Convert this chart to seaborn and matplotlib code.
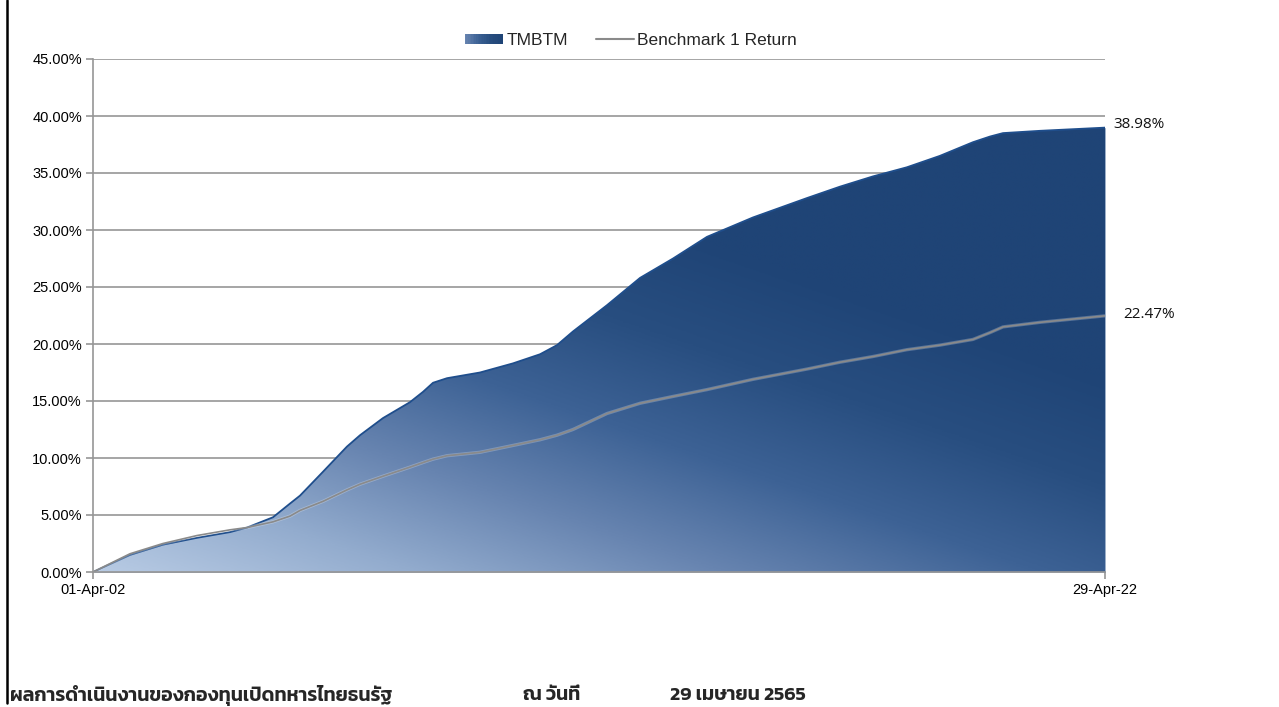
import matplotlib
matplotlib.use("Agg")
import numpy as np
import pandas as pd
import seaborn as sns
import matplotlib.pyplot as plt
import matplotlib.dates as mdates
from matplotlib.colors import LinearSegmentedColormap
from matplotlib.patches import Rectangle
from matplotlib.lines import Line2D
from matplotlib.legend_handler import HandlerBase

# Cumulative returns (%) of the fund and its benchmark
dates = [
    "2002-04-01", "2002-12-25", "2003-08-21", "2004-04-24", "2004-12-19",
    "2005-04-21", "2005-10-26", "2006-02-26", "2006-05-10", "2006-10-24",
    "2007-04-15", "2007-07-19", "2008-01-01", "2008-07-15", "2008-10-17",
    "2008-12-29", "2009-04-09", "2009-12-04", "2010-07-31", "2011-02-12",
    "2011-06-15", "2011-10-09", "2012-06-11", "2013-02-06", "2013-10-03",
    "2014-06-06", "2015-05-05", "2016-05-30", "2017-01-24", "2017-09-20",
    "2018-05-24", "2019-01-18", "2019-09-15", "2020-01-17", "2020-04-20",
    "2021-01-13", "2022-04-29",
]
tmbtm = [
    0.0, 1.5, 2.4, 3.0, 3.5,
    3.9, 4.8, 6.0, 6.7, 8.8,
    11.0, 12.0, 13.5, 14.9, 15.8,
    16.6, 17.0, 17.5, 18.3, 19.1,
    19.9, 21.1, 23.4, 25.8, 27.5,
    29.4, 31.1, 32.8, 33.8, 34.7,
    35.5, 36.5, 37.7, 38.2, 38.5,
    38.7, 38.98,
]
benchmark = [
    0.0, 1.6, 2.5, 3.2, 3.7,
    3.9, 4.4, 4.9, 5.4, 6.2,
    7.2, 7.7, 8.4, 9.2, 9.6,
    9.9, 10.2, 10.5, 11.1, 11.6,
    12.0, 12.5, 13.9, 14.8, 15.4,
    16.0, 16.9, 17.8, 18.4, 18.9,
    19.5, 19.9, 20.4, 21.0, 21.5,
    21.9, 22.47,
]
y_ticks = [0, 5, 10, 15, 20, 25, 30, 35, 40, 45]
series_names = ["TMBTM", "Benchmark 1 Return"]
title_left = "ผลการดำเนินงานของกองทุนเปิดทหารไทยธนรัฐ"
title_mid = "ณ วันที่"
title_right = "29 เมษายน 2565"

df = pd.DataFrame({"date": pd.to_datetime(dates), "tmbtm": tmbtm, "benchmark": benchmark})

sns.set_theme(style="white")
plt.rcParams["font.family"] = ["Liberation Sans", "DejaVu Sans"]

fig = plt.figure(figsize=(12.79, 7.07), dpi=100)
ax = fig.add_axes([93 / 1279, 1 - 572 / 707, (1105 - 93) / 1279, (572 - 59) / 707])

grad_cmap = LinearSegmentedColormap.from_list(
    "navy", ["#b8cbe4", "#93acce", "#6784b0", "#3d6295", "#284e80", "#1f4476"]
)

xnum = mdates.date2num(df["date"])
x0, x1 = xnum[0], xnum[-1]
y0, y1 = 0, 45

# Horizontal gridlines, kept beneath the filled area
for v in y_ticks[1:]:
    ax.axhline(v, color="#969696", lw=1.2, zorder=0.3)

# Opaque base under the fund curve, then a diagonal gradient on top of it
ax.fill_between(df["date"], 0, df["tmbtm"], color="#3d6295", lw=0, zorder=1.5)
gx, gy = np.meshgrid(np.linspace(0, 1, 600), np.linspace(0, 1, 400))
tval = np.clip(0.64 * gx + 0.95 * gy, 0, 1)
img = ax.imshow(tval, cmap=grad_cmap, origin="lower", aspect="auto",
                extent=[x0, x1, y0, y1], vmin=0, vmax=1, zorder=2,
                interpolation="bilinear")
poly = ax.fill_between(df["date"], 0, df["tmbtm"], color="none", lw=0, zorder=2)
img.set_clip_path(poly.get_paths()[0], transform=ax.transData)

# Outline of the fund area
sns.lineplot(data=df, x="date", y="tmbtm", ax=ax, color="#1f4e8c", lw=1.3,
             zorder=3, legend=False)
# Benchmark line with a faint light halo
sns.lineplot(data=df, x="date", y="benchmark", ax=ax, color="#ffffff", lw=2.4,
             alpha=0.25, zorder=4, legend=False)
sns.lineplot(data=df, x="date", y="benchmark", ax=ax, color="#8a8a8a", lw=1.2,
             zorder=5, legend=False)

ax.set_xlim(x0, x1)
ax.set_ylim(y0, y1)
ax.set_xlabel("")
ax.set_ylabel("")
ax.set_yticks(y_ticks)
ax.set_yticklabels([f"{v:.2f}%" for v in y_ticks])
ax.set_xticks([x0, x1])
ax.set_xticklabels([d.strftime("%d-%b-%y") for d in df["date"].iloc[[0, -1]]])
ax.grid(False)
for side in ["top", "right"]:
    ax.spines[side].set_visible(False)
for side in ["left", "bottom"]:
    ax.spines[side].set_color("#969696")
    ax.spines[side].set_linewidth(1.2)
    ax.spines[side].set_zorder(6)
ax.tick_params(axis="both", which="both", direction="out", length=5, width=1.2,
               color="#969696", labelsize=10.5, labelcolor="#000000", pad=3,
               left=True, bottom=True)

# End-of-series value labels
ax.annotate(f"{tmbtm[-1]:.2f}%", xy=(x1, tmbtm[-1]), xytext=(6, 2),
            textcoords="offset points", ha="left", va="center", fontsize=11,
            family=["Open Sans", "DejaVu Sans"], color="#111111")
ax.annotate(f"{benchmark[-1]:.2f}%", xy=(x1, benchmark[-1]), xytext=(13, 1),
            textcoords="offset points", ha="left", va="center", fontsize=11,
            family=["Open Sans", "DejaVu Sans"], color="#111111")


class GradientPatchHandler(HandlerBase):
    def create_artists(self, legend, orig_handle, xdescent, ydescent, width,
                       height, fontsize, trans):
        arts = []
        n = 24
        for i in range(n):
            r = Rectangle((xdescent + width * i / n, ydescent + height * 0.08),
                          width / n + 0.3, height * 0.78,
                          facecolor=grad_cmap(0.4 + 0.6 * i / (n - 1)),
                          edgecolor="none", transform=trans)
            arts.append(r)
        return arts


handles = [Rectangle((0, 0), 1, 1), Line2D([0], [0], color="#8a8a8a", lw=1.5)]
fig.legend(handles, series_names, loc="center", ncol=2,
           bbox_to_anchor=(631 / 1279, 1 - 40 / 707), frameon=False,
           fontsize=12.5, handlelength=2.2, handletextpad=0.2, columnspacing=1.6,
           handler_map={Rectangle: GradientPatchHandler()})

# Footer heading
thai = ["Kanit", "Prompt", "Noto Sans Thai", "DejaVu Sans"]
for xp, txt in [(10, title_left), (523, title_mid), (670, title_right)]:
    fig.text(xp / 1279, 1 - 696 / 707, txt, family=thai, fontsize=14,
             weight="semibold", va="center", ha="left")

# Left page border
fig.add_artist(Line2D([7 / 1279, 7 / 1279], [0.005, 1], color="black", lw=1.8,
                      transform=fig.transFigure))

fig.savefig("out.png", dpi=100)
